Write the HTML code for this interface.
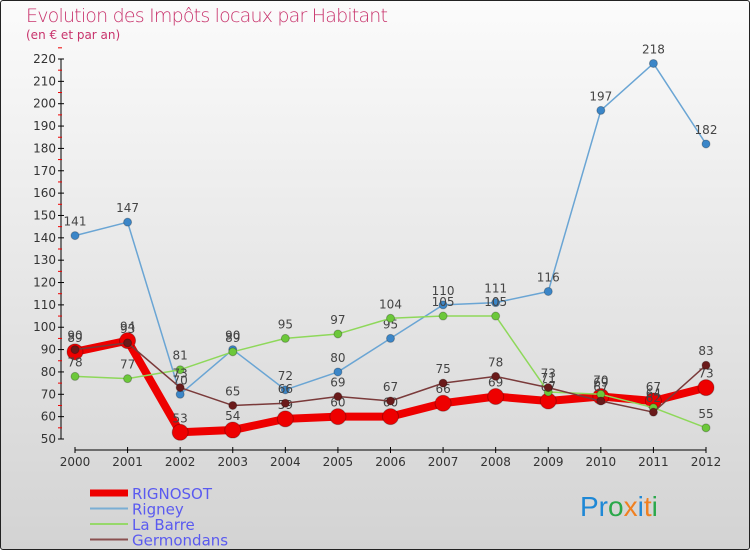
<!DOCTYPE html>
<html><head><meta charset="utf-8"><style>
body{margin:0;width:750px;height:550px;overflow:hidden;font-family:"DejaVu Sans","Liberation Sans",sans-serif}
#wrap{position:absolute;left:0;top:0;width:748px;height:548px;border:1px solid #222;border-radius:3px;background:linear-gradient(#fbfbfb,#d3d3d3)}
</style></head><body>
<div id="wrap">
<svg width="750" height="550" style="position:absolute;left:-1px;top:-1px">
<text x="26" y="22" font-size="19" fill="#c8336c" font-family="DejaVu Sans, sans-serif" font-weight="300" textLength="362">Evolution des Impôts locaux par Habitant</text>
<text x="26" y="39" font-size="12" fill="#c8336c">(en € et par an)</text>
<g id="axes"></g>
<g id="series"></g>
<g id="legend"></g>
<text x="580" y="516" font-size="28" font-family="Liberation Sans, sans-serif"><tspan fill="#1e88d6">Pr</tspan><tspan fill="#2aa84a">o</tspan><tspan fill="#f08020">x</tspan><tspan fill="#1e88d6">i</tspan><tspan fill="#f08020">t</tspan><tspan fill="#2aa84a">i</tspan></text>
</svg>
</div>
<script>
const years=[2000,2001,2002,2003,2004,2005,2006,2007,2008,2009,2010,2011,2012];
const rignosot=[89,94,53,54,59,60,60,66,69,67,69,67,73];
const rigney=[141,147,70,90,72,80,95,110,111,116,197,218,182];
const labarre=[78,77,81,89,95,97,104,105,105,71,70,64,55];
const germondans=[90,93,73,65,66,69,67,75,78,73,67,62,83];
const yTicks=[50,60,70,80,90,100,110,120,130,140,150,160,170,180,190,200,210,220];
const NS="http://www.w3.org/2000/svg";
const X=i=>75+i*(706-75)/(years.length-1);
const Y=v=>439-(v-50)*(439-59)/170;
function mk(t,a,p){const e=document.createElementNS(NS,t);for(const k in a)e.setAttribute(k,a[k]);p.appendChild(e);return e;}
const ax=document.getElementById('axes');
let l=mk('line',{x1:61,y1:Y(220),x2:61,y2:Y(50),stroke:'#000'},ax);


yTicks.forEach(v=>{
 mk('line',{x1:58,x2:64,y1:Y(v),y2:Y(v),stroke:'#000'},ax);
 mk('line',{x1:58,x2:62,y1:Y(v+5),y2:Y(v+5),stroke:'#e00'},ax);
 const t=mk('text',{x:56,y:Y(v)+4,'font-size':12,'text-anchor':'end',fill:'#333'},ax);t.textContent=v;
 
 
});
l=mk('line',{x1:75,y1:450,x2:706,y2:450,stroke:'#000'},ax);


years.forEach((y,i)=>{
 mk('line',{x1:X(i),x2:X(i),y1:447,y2:453,stroke:'#000'},ax);
 const t=mk('text',{x:X(i),y:466,'font-size':12,'text-anchor':'middle',fill:'#333'},ax);t.textContent=y;
 
 
});
const sg=document.getElementById('series');
const defs=[
 {d:rigney,c:'#6aa5d4',dot:'#3b86c8',w:1.5,r:4,n:'rigney'},
 {d:labarre,c:'#8ed85a',dot:'#6cc83a',w:1.5,r:4,n:'la-barre'},
 {d:germondans,c:'#7a3a3a',dot:'#6a1a1a',w:1.5,r:4,n:'germondans'},
 {d:rignosot,c:'#ee0000',dot:'#ee0000',w:8,r:8,n:'rignosot'}
];
[defs[3],defs[0],defs[1],defs[2]].forEach(s=>{
 const g=mk('g',{},sg);
 
 
 mk('polyline',{points:s.d.map((v,i)=>X(i)+','+Y(v)).join(' '),fill:'none',stroke:s.c,'stroke-width':s.w,'stroke-linejoin':'round'},g);
 s.d.forEach((v,i)=>{
  const c=mk('circle',{cx:X(i),cy:Y(v),r:s.r,fill:s.dot,stroke:'rgba(0,0,0,0.25)','stroke-width':1},g);
  
  
  const t=mk('text',{x:X(i),y:Y(v)-10,'font-size':12,'text-anchor':'middle',fill:'#444'},g);t.textContent=v;
 });
});
const lg=document.getElementById('legend');
[['RIGNOSOT','#ee0000',7],['Rigney','#7aaed4',2],['La Barre','#96d86a',2],['Germondans','#8a5050',2]].forEach((e,i)=>{
 const yy=493+i*15.5;
 const g=mk('g',{},lg);
 
 
 mk('line',{x1:90,x2:128,y1:yy,y2:yy,stroke:e[1],'stroke-width':e[2]},g);
 const t=mk('text',{x:132,y:yy+6,'font-size':15,fill:'#5a5af0'},g);t.textContent=e[0];
});
</script>
</body></html>
